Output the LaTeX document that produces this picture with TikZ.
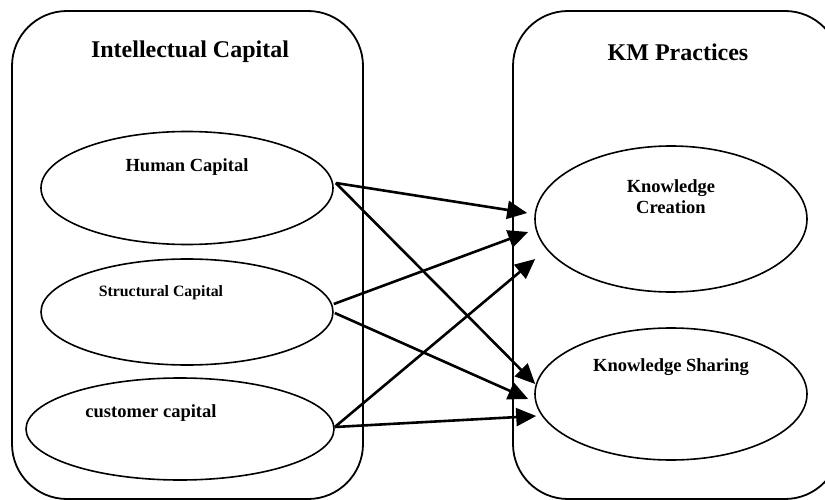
\documentclass[tikz,border=0pt]{standalone}
\usepackage{fontspec}
\setmainfont{Liberation Serif}
\usetikzlibrary{arrows.meta,shapes.geometric}

\begin{document}
\begin{tikzpicture}[x=1pt,y=-1pt,
  panel/.style={draw,line width=1.8pt,rounded corners=55pt},
  oval/.style={draw,ellipse,line width=1.6pt,inner sep=0pt},
  link/.style={line width=2.6pt,-{Triangle[length=20pt,width=18pt]}},
  title/.style={font=\fontsize{24}{28}\selectfont\bfseries},
  lbl/.style={font=\fontsize{18.5}{21}\selectfont\bfseries,align=center}]
\useasboundingbox (0,0) rectangle (825,500);
\clip (0,0) rectangle (825,500);
% the two frames
\draw[panel] (12,11) rectangle (363,499);
\draw[panel] (513,11) rectangle (840,499);
\node[title] (ictitle) at (190,52) {Intellectual Capital};
\node[title] (kmtitle) at (678,52) {KM Practices};
% left side
\node[oval,minimum width=292pt,minimum height=113pt] (hc) at (187,188) {};
\node[lbl] (hctext) at (187,167) {Human Capital};
\node[oval,minimum width=292pt,minimum height=106pt] (sc) at (187,312) {};
\node[lbl,font=\fontsize{15.8}{19}\selectfont\bfseries] (sctext) at (161,293) {Structural Capital};
\node[oval,minimum width=308pt,minimum height=102pt] (cc) at (180,429) {};
\node[lbl] (cctext) at (151,413) {customer capital};
% right side
\node[oval,minimum width=272pt,minimum height=146pt] (kc) at (671,219) {};
\node[lbl] (kctext) at (671,197) {Knowledge\\Creation};
\node[oval,minimum width=272pt,minimum height=132pt] (ks) at (671,394) {};
\node[lbl] (kstext) at (671,367) {Knowledge Sharing};
% arrows
\draw[link] ([shift={(2,-5)}]hc.east) -- ([shift={(-7,-6)}]kc.west);
\draw[link] ([shift={(2,-5)}]hc.east) -- ([shift={(1,-10)}]ks.west);
\draw[link] ([shift={(0,-8)}]sc.east) -- ([shift={(-6,13)}]kc.west);
\draw[link] ([shift={(1,1)}]sc.east) -- ([shift={(-6,5)}]ks.west);
\draw[link] ([shift={(0,-2)}]cc.east) -- ([shift={(1,40)}]kc.west);
\draw[link] ([shift={(0,-2)}]cc.east) -- ([shift={(2,22)}]ks.west);
\end{tikzpicture}
\end{document}
